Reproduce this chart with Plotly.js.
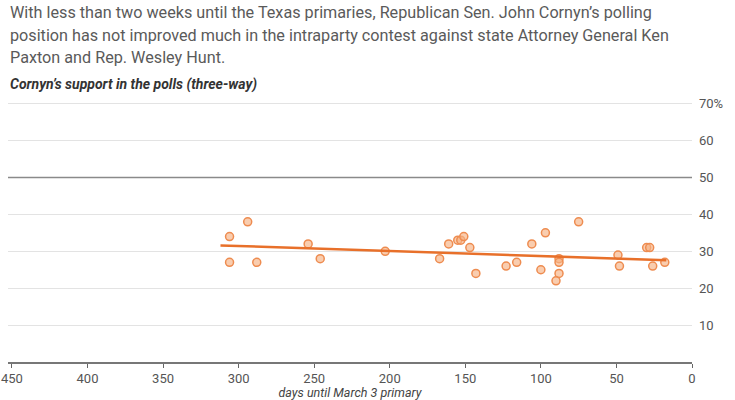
<!DOCTYPE html>
<html>
<head>
<meta charset="utf-8">
<script src="https://cdn.plot.ly/plotly-3.0.1.min.js"></script>
<style>
  html, body { margin: 0; padding: 0; background: #fff; }
  #chart { width: 735px; height: 400px; }
</style>
</head>
<body>
<div id="chart"></div>
<script>
// Polls: days before the March 3 primary vs. Cornyn's share (%)
const pollDays = [306, 306, 294, 288, 254, 246, 203, 167, 161, 155, 153, 151, 147, 143,
                  123, 116, 106, 100, 97, 88, 88, 88, 90, 75, 49, 48, 30, 28, 26, 18];
const pollSupport = [34, 27, 38, 27, 32, 28, 30, 28, 32, 33, 33, 34, 31, 24,
                     26, 27, 32, 25, 35, 28, 27, 24, 22, 38, 29, 26, 31, 31, 26, 27];

// Trend line endpoints
const trendDays = [312, 17];
const trendSupport = [31.6, 27.6];

const yTicks = [10, 20, 30, 40, 50, 60, 70];
const yTickText = ['10', '20', '30', '40', '50', '60', '70%'];
const xTicks = [450, 400, 350, 300, 250, 200, 150, 100, 50, 0];

const titleLines = [
    'With less than two weeks until the Texas primaries, Republican Sen. John Cornyn\u2019s polling',
    'position has not improved much in the intraparty contest against state Attorney General Ken',
    'Paxton and Rep. Wesley Hunt.'
];
const subTitle = 'Cornyn\u2019s support in the polls (three-way)';

const FONT = 'Roboto, "Open Sans", sans-serif';

const traces = [
    {
        x: pollDays,
        y: pollSupport,
        mode: 'markers',
        type: 'scatter',
        marker: {
            size: 8,
            color: 'rgba(246, 178, 132, 0.65)',
            line: { color: '#ee8c50', width: 1.5 }
        },
        hoverinfo: 'x+y'
    },
    {
        x: trendDays,
        y: trendSupport,
        mode: 'lines',
        type: 'scatter',
        line: { color: '#e8702a', width: 2.5 },
        hoverinfo: 'skip'
    }
];

const lineY = [1.333, 1.247, 1.161];
const annotations = titleLines.map((t, i) => ({
    text: t,
    xref: 'paper', yref: 'paper',
    x: 0, y: lineY[i],
    xanchor: 'left', yanchor: 'middle',
    showarrow: false,
    font: { family: FONT, size: 16.2, color: '#5a5a5a' }
}));
annotations.push({
    text: '<b><i>' + subTitle + '</i></b>',
    xref: 'paper', yref: 'paper',
    x: 0, y: 1.058,
    xanchor: 'left', yanchor: 'middle',
    showarrow: false,
    font: { family: FONT, size: 14, color: '#333333' }
});

const layout = {
    width: 735,
    height: 400,
    margin: { t: 100, r: 43, b: 38, l: 8 },
    paper_bgcolor: '#ffffff',
    plot_bgcolor: '#ffffff',
    showlegend: false,
    font: { family: FONT, color: '#555555' },
    xaxis: {
        range: [452.6, 0],
        tickvals: xTicks,
        ticks: 'outside',
        ticklen: 4,
        tickcolor: '#666666',
        showgrid: false,
        zeroline: false,
        showline: true,
        linecolor: '#777777',
        linewidth: 1.5,
        tickfont: { family: FONT, size: 13, color: '#555555' },
        title: {
            text: '<i>days until March 3 primary</i>',
            font: { family: FONT, size: 12.5, color: '#444444' },
            standoff: 8
        },
        fixedrange: true
    },
    yaxis: {
        range: [0, 71],
        side: 'right',
        tickvals: yTicks,
        ticktext: yTickText,
        ticks: '',
        ticklabelstandoff: 6,
        showgrid: true,
        gridcolor: '#e3e3e3',
        gridwidth: 1,
        zeroline: false,
        showline: false,
        tickfont: { family: FONT, size: 13, color: '#555555' },
        fixedrange: true
    },
    shapes: [{
        type: 'line',
        xref: 'paper', yref: 'y',
        x0: 0, x1: 1, y0: 50, y1: 50,
        line: { color: '#8a8a8a', width: 1.3 },
        layer: 'above'
    }],
    annotations: annotations
};

Plotly.newPlot('chart', traces, layout, { displayModeBar: false, staticPlot: true });
</script>
</body>
</html>
